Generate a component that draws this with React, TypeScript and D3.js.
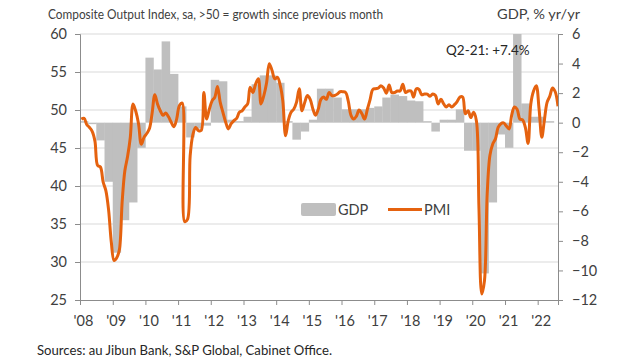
import React, { useEffect, useRef } from 'react'
import * as d3 from 'd3'

// monthly composite PMI, Jan 2008 - Aug 2022
const pmiStart = new Date(2008, 0, 1)
const pmi = [
  48.8, 48.9, 48.1, 47.7, 47.2, 45.9, 42.7, 42.5, 40.5, 39.4, 36.8, 32.6,
  30.2, 30.6, 31.6, 37.9, 42.0, 43.9, 46.4, 50.8, 49.8, 48.2, 45.5, 46.4,
  46.9, 47.6, 49.5, 52.0, 50.8, 49.9, 49.3, 49.6, 49.1, 48.4, 47.8, 48.8,
  50.6, 50.9, 35.3, 35.6, 44.0, 46.8, 47.7, 47.3, 47.3, 52.3, 48.8, 50.1,
  51.2, 51.7, 53.1, 51.0, 49.7, 48.4, 47.5, 48.2, 48.6, 48.9, 49.7, 49.9,
  50.4, 50.8, 53.0, 52.3, 53.4, 54.1, 50.8, 51.9, 53.6, 56.1, 55.2, 54.1,
  54.3, 53.2, 51.2, 46.6, 48.6, 49.7, 50.1, 51.0, 52.8, 49.9, 51.0, 51.9,
  51.4, 50.1, 49.3, 50.1, 51.4, 51.7, 51.4, 52.3, 51.9, 51.9, 52.1, 52.4,
  52.4, 52.3, 51.2, 49.3, 48.8, 49.2, 50.0, 49.5, 48.8, 50.1, 51.4, 52.7,
  52.8, 52.9, 53.2, 52.9, 52.2, 53.3, 52.3, 52.3, 52.5, 52.5, 53.4, 52.3,
  52.5, 52.5, 51.7, 52.8, 52.7, 52.0, 52.1, 52.1, 51.8, 52.1, 51.9, 50.8,
  51.4, 50.8, 50.4, 50.7, 50.4, 50.7, 51.1, 51.7, 51.7, 49.5, 49.9, 49.0,
  49.7, 48.6, 37.0, 25.8, 27.5, 39.0, 44.0, 45.5, 46.2, 47.7, 48.2, 48.3,
  47.9, 47.5, 49.3, 50.4, 50.1, 48.8, 48.7, 47.7, 45.6, 50.8, 52.5, 53.2,
  50.2, 46.4, 48.6, 51.0, 51.8, 52.9, 52.4, 50.5,
]

// quarterly real GDP % y/y, Q1 2008 - Q2 2022
const gdpStart = new Date(2008, 0, 1)
const gdp = [
  0.1, -0.1, -1.2, -4.0,
  -8.8, -6.6, -5.4, -1.7,
  4.4, 3.6, 5.5, 3.3,
  1.1, -1.0, -0.4, -0.2,
  2.9, 2.8, 0.2, 0.1,
  0.4, 2.6, 3.2, 3.2,
  2.7, 0.1, -1.15, -0.6,
  0.2, 2.3, 2.3, 1.7,
  0.9, 0.9, 0.9, 1.0,
  1.1, 1.7, 1.9, 1.8,
  1.5, 1.45, 0.1, -0.6,
  0.2, 0.2, 0.9, -1.9,
  -1.9, -10.2, -5.4, -0.8,
  -1.7, 7.4, 1.3, 0.4,
  0.4, 0.1,
]

const pmiTicks = [25, 30, 35, 40, 45, 50, 55, 60]
const gdpTicks = [-12, -10, -8, -6, -4, -2, 0, 2, 4, 6]
const yearLabels = ["'08", "'09", "'10", "'11", "'12", "'13", "'14", "'15", "'16", "'17", "'18", "'19", "'20", "'21", "'22"]

const font = 'Lato, "Open Sans", sans-serif'
const textColor = '#404040'
const orange = '#e5620f'

export default function App() {
  const ref = useRef<SVGSVGElement>(null)

  useEffect(() => {
    const svg = d3.select(ref.current)
    svg.selectAll('*').remove()

    const margin = { top: 34, right: 70, bottom: 62, left: 80 }
    const width = 628 - margin.left - margin.right
    const height = 362 - margin.top - margin.bottom

    const x = d3.scaleTime()
      .domain([new Date(2008, 0, 1), new Date(2022, 7, 16)])
      .range([0, width])
    const yL = d3.scaleLinear().domain([25, 60]).range([height, 0])
    const yR = d3.scaleLinear().domain([-12, 6]).range([height, 0])

    svg.append('defs').append('clipPath').attr('id', 'plot')
      .append('rect').attr('width', width).attr('height', height)

    const g = svg.append('g').attr('transform', `translate(${margin.left},${margin.top})`)

    // gridlines
    g.append('g').selectAll('line')
      .data(pmiTicks.slice(1))
      .enter().append('line')
      .attr('x1', 0).attr('x2', width)
      .attr('y1', d => yL(d)).attr('y2', d => yL(d))
      .attr('stroke', '#d9d9d9')

    // GDP bars
    g.append('g').attr('clip-path', 'url(#plot)')
      .selectAll('rect')
      .data(gdp)
      .enter().append('rect')
      .attr('x', (d, i) => x(d3.timeMonth.offset(gdpStart, i * 3)))
      .attr('width', (d, i) => x(d3.timeMonth.offset(gdpStart, i * 3 + 3)) - x(d3.timeMonth.offset(gdpStart, i * 3)) + 0.3)
      .attr('y', d => yR(Math.max(0, d)))
      .attr('height', d => Math.abs(yR(d) - yR(0)))
      .attr('fill', '#bfbfbf')

    // axes
    const axisColor = '#8c8c8c'
    const left = g.append('g')
      .call(d3.axisLeft(yL).tickValues(pmiTicks).tickSize(5).tickPadding(8))
    const right = g.append('g')
      .attr('transform', `translate(${width},0)`)
      .call(d3.axisRight(yR).tickValues(gdpTicks).tickSize(5).tickPadding(9))
    const bottom = g.append('g')
      .attr('transform', `translate(0,${height})`)
      .call(d3.axisBottom(x)
        .tickValues(d3.timeYear.range(new Date(2008, 0, 1), new Date(2023, 0, 1)))
        .tickSize(5).tickPadding(11)
        .tickFormat((d, i) => yearLabels[i]))
    for (const ax of [left, right, bottom]) {
      ax.select('.domain').attr('stroke', axisColor)
      ax.selectAll('line').attr('stroke', axisColor)
      ax.selectAll('text')
        .attr('fill', textColor)
        .style('font-family', font)
        .style('font-size', '14.5px')
    }
    bottom.selectAll('text').attr('dx', 3)

    // PMI line
    const line = d3.line<number>()
      .x((d, i) => x(d3.timeDay.offset(d3.timeMonth.offset(pmiStart, i), 15)))
      .y(d => yL(d))
      .curve(d3.curveCatmullRom.alpha(0.5))
    g.append('path')
      .datum(pmi)
      .attr('d', line)
      .attr('fill', 'none')
      .attr('stroke', orange)
      .attr('stroke-width', 3)
      .attr('clip-path', 'url(#plot)')

    // legend
    const lg = g.append('g').attr('transform', `translate(${221},${169})`)
    lg.append('rect').attr('x', 0).attr('y', 0).attr('width', 35).attr('height', 13).attr('rx', 2).attr('fill', '#bfbfbf')
    lg.append('text').attr('x', 37).attr('y', 12).text('GDP')
      .attr('fill', textColor).style('font-family', font).style('font-size', '14.5px')
    lg.append('line').attr('x1', 87).attr('x2', 121).attr('y1', 6.5).attr('y2', 6.5)
      .attr('stroke', orange).attr('stroke-width', 3)
    lg.append('text').attr('x', 123).attr('y', 12).text('PMI')
      .attr('fill', textColor).style('font-family', font).style('font-size', '14.5px')

    // annotation
    g.append('text').attr('x', 366).attr('y', 21).text('Q2-21: +7.4%')
      .attr('fill', '#262626').style('font-family', font).style('font-size', '13.5px')

    // titles
    svg.append('text').attr('x', 48).attr('y', 19)
      .text('Composite Output Index, sa, >50 = growth since previous month')
      .attr('textLength', 335).attr('lengthAdjust', 'spacingAndGlyphs')
      .attr('fill', textColor).style('font-family', font).style('font-size', '13.5px')
    svg.append('text').attr('x', 497).attr('y', 19)
      .text('GDP, % yr/yr')
      .attr('textLength', 83).attr('lengthAdjust', 'spacingAndGlyphs')
      .attr('fill', textColor).style('font-family', font).style('font-size', '13.5px')
    svg.append('text').attr('x', 37).attr('y', 355)
      .text('Sources: au Jibun Bank, S&P Global, Cabinet Office.')
      .attr('textLength', 295).attr('lengthAdjust', 'spacingAndGlyphs')
      .attr('fill', '#262626').style('font-family', font).style('font-size', '13px')
  }, [])

  return (
    <svg ref={ref} width={628} height={362}
      style={{ position: 'absolute', left: 0, top: 0, background: '#fff' }} />
  )
}
